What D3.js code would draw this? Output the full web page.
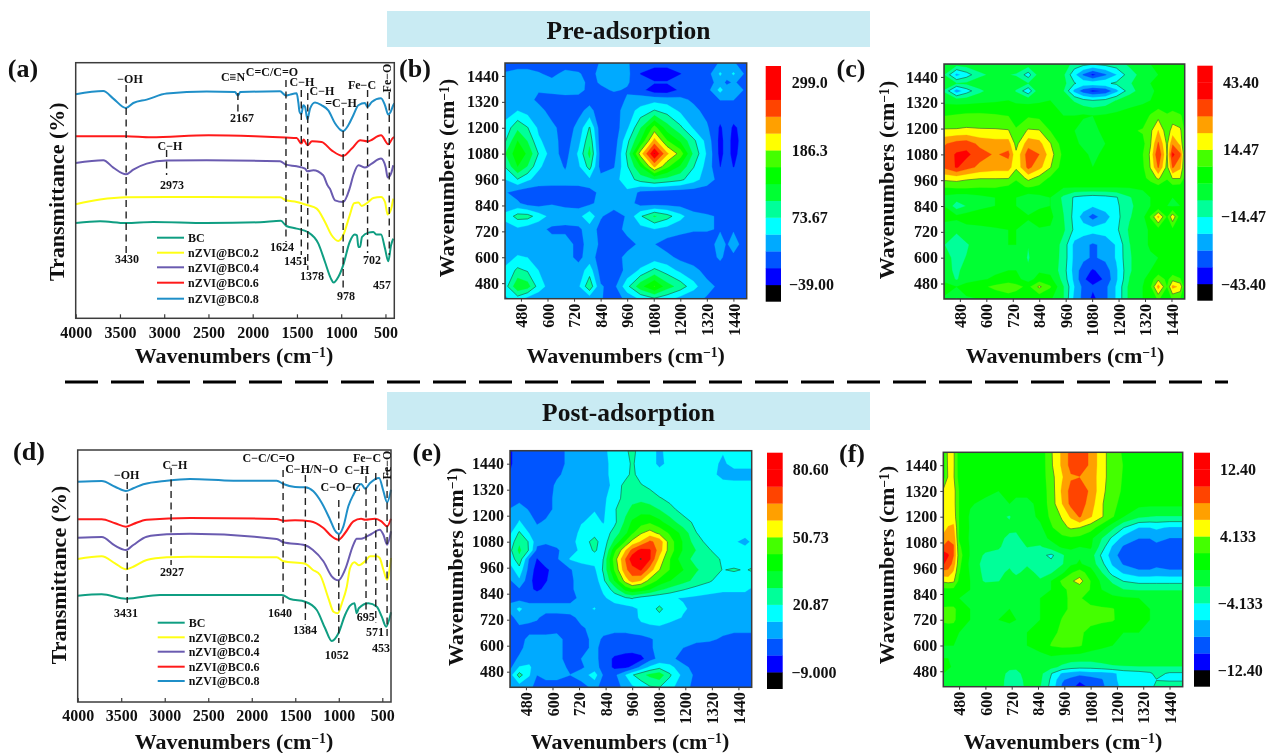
<!DOCTYPE html>
<html><head><meta charset="utf-8">
<style>html,body{margin:0;padding:0;background:#fff}svg{display:block;filter:blur(.4px)}text{font-family:"Liberation Serif","Times New Roman",serif;font-weight:bold;fill:#111}</style>
<script src="https://cdn.jsdelivr.net/npm/d3@7/dist/d3.min.js"></script>
</head><body><svg id="c" width="1266" height="753" viewBox="0 0 1266 753"></svg>
<script>
// ---------- FTIR spectra, panel (a): wavenumber / transmittance (arb. units) ----------
const seriesNames=["BC","nZVI@BC0.2","nZVI@BC0.4","nZVI@BC0.6","nZVI@BC0.8"];
const seriesColors=["#0f9e82","#ffff14","#6a5bb0","#ff1a1a","#1f8fc8"];
const xTicksFtir=[4000,3500,3000,2500,2000,1500,1000,500];
const waveA0=[4000,3725,3432,3123,2520,1917,1682,1620,1503,1378,1258,1183,1116,1086,1033,978,904,848,822,806,787,765,693,637,600,550,505,468,437,412];
const transA0=[95.3,97,95.3,96.3,95.3,96,97.5,92.3,89.7,86.3,74.7,56.3,39.7,35.7,41.3,53,76.3,83.7,83,71.3,71.3,81.3,85.7,86.3,83.7,83.7,69.7,57,73,79.7];
const waveA1=[4000,3725,3432,2972,2520,1691,1624,1503,1378,1277,1183,1108,1033,978,904,855,806,768,693,637,550,505,475,437,412];
const transA1=[114,118.7,121,121.3,121.3,121,118,116.3,113,109.7,96.3,83,77.3,83,103,115,115.7,112.3,116.3,120.3,121.3,116.3,103.7,109,119.7];
const waveA2=[4000,3688,3575,3432,3349,3198,2972,2520,1691,1624,1503,1408,1382,1315,1204,1155,1129,1070,978,904,863,806,731,655,550,498,475,437,412];
const transA2=[155.3,158,150.7,144,148.7,154.7,157.7,158,157,153.7,152,149.7,147,148,143,133,129.7,118,116.3,130,143,153,150.7,154.7,159.7,151.3,140.7,144.7,153];
const waveA3=[4000,3430,3150,2500,1974,1624,1503,1451,1425,1382,1330,1221,1108,978,880,783,705,550,468,412,400];
const transA3=[182,182,181,183,182,180.7,180.3,174.7,178.7,173,177,176.3,168,162.3,169.7,178,177,183,174,180.7,181];
const waveA4=[4000,3688,3575,3432,3349,3198,2972,2520,2200,2167,2140,1691,1624,1580,1503,1485,1470,1451,1428,1408,1382,1352,1296,1221,1146,1070,1012,978,920,863,806,731,705,655,550,505,468,442,412,400];
const transA4=[224,227.3,219.7,210.3,215.3,218.7,224.7,226.7,226.3,222.7,226.3,227,222.7,223.7,225,216.3,206.3,204,213,211.3,199,209.7,215.7,213,208,195,188.7,187.3,193,203,213,215.3,211.3,216.3,220,213,203.7,206.3,213,215];
// ---------- FTIR spectra, panel (d) ----------
const waveD0=[4000,3724,3445,3054,1713,1655,1560,1387,1253,1157,1081,1004,928,870,820,794,770,660,563,506,456,400];
const transD0=[106.3,107.7,103.3,107,107,107,103,100.3,92,73.7,61,68.7,87,96.3,98.7,88.7,93.7,98.7,95.3,85.3,75.3,89.7];
const waveD1=[4000,3724,3571,3445,3361,3207,2977,2709,1713,1637,1387,1300,1215,1119,1061,1011,965,908,870,820,770,698,640,563,530,487,445,400];
const transD1=[143,145.7,138.7,132.7,135.3,142,144.7,145.3,144.7,140.7,138.3,132.3,127,103.7,90.3,88.7,98.7,115.3,134,139.7,136.7,140.7,145.7,145.7,144,132.3,122.3,144];
const waveD2=[4000,3724,3571,3445,3361,3207,2977,2709,1713,1637,1387,1300,1177,1081,1004,928,832,794,743,698,625,530,487,445,400];
const transD2=[164.3,165,156.3,152,157,165.3,167.7,168.3,163,159.7,156.7,152.3,140.7,125.7,121.7,132.3,157.3,163.3,163.3,164.7,168,172.3,167.3,157.3,170.7];
const waveD3=[4000,3724,3571,3445,3361,3207,2709,1713,1637,1502,1330,1177,1081,1004,928,832,743,698,583,510,445,400];
const transD3=[182.7,182.7,178.7,175.3,178,182.3,184,183,181.3,181.7,180.7,174,165.7,162.3,169,180.7,183.3,182.3,183.3,180.7,175.7,183.3];
const waveD4=[4000,3724,3571,3445,3361,3246,2977,2709,2211,1713,1637,1502,1387,1292,1195,1100,1042,997,947,890,832,743,698,640,537,487,445,400];
const transD4=[220.3,221,215.3,211,213.7,217.7,221.3,223,221.3,221.3,218,215,214.7,210.7,199,182.3,171.3,168,175.7,195.7,207.3,218,213.3,219,224,210.7,199.7,212.3];
// dashed guide wavenumbers
const guideWaveA=[3430,2167,2973,1624,1451,1378,978,702,457];
const guideTopA=[85,93,150,80,90,93,108,90,92];
const guideBotA=[253,112,175,242,255,270,288,253,255];
const guideWaveD=[3431,2927,1640,1384,1000,687,575,445];
const guideTopD=[482,468,470,475,500,476,473,468];
const guideBotD=[603,565,608,625,643,612,623,638];
const notesA=[["−OH",130,79],["C≡N",233,77],["C=C/C=O",272,72],["C−H",302,82],["C−H",322,91],["=C−H",341,103],["Fe−C",362,85],["2167",242,118],["C−H",170,146],["2973",172,185],["3430",127,259],["1624",282,247],["1451",296,261],["1378",312,276],["978",346,296],["702",372,260],["457",382,285]];
const notesD=[["−OH",126.7,475],["C−H",175,465],["C−C/C=O",268.7,458],["C−H/N−O",311.7,469],["C−O−C",340.7,487],["C−H",357,470],["Fe−C",367,458],["2927",172,572],["3431",126,612.7],["1640",280,612.7],["1384",305,630],["1052",336.7,655],["695",365.7,617],["571",375,632],["453",381,648]];

// ---------- 2D correlation maps ----------
const mapTicks=[480,600,720,840,960,1080,1200,1320,1440];
const bandColors=["#0000ff","#0055ff","#00aaff","#00ffff","#00ff99","#00ff33","#00ff00","#44ff00","#ffff00","#ffa000","#ff4400","#ff0000"];
const rangeB=[-39,299], rangeC=[-43.4,43.4], rangeE=[-9,80.6], rangeF=[-12.4,12.4];
const labelsB=["−39.00","73.67","186.3","299.0"], labelsC=["−43.40","−14.47","14.47","43.40"], labelsE=["−9.000","20.87","50.73","80.60"], labelsF=["−12.40","−4.133","4.133","12.40"];

const xGridB=[408,465,510,560,620,680,740,790,840,900,960,1020,1083,1140,1200,1260,1320,1380,1410,1440,1500];
const yGridB=[1500,1450,1410,1375,1330,1280,1200,1140,1080,1020,960,900,850,790,730,660,600,540,465,408];
const zB=[
[3,3,3,3,3,3,3,3,20,20,20,3,3,3,3,3,3,20,20,20,3],
[20,28,28,20,10,25,20,8,25,30,25,-12,-30,-30,-12,3,3,50,30,50,8],
[25,28,28,25,25,30,28,10,20,25,20,3,-8,-8,3,3,3,30,12,20,8],
[25,25,25,20,25,30,28,8,12,20,15,0,-30,-30,-5,3,5,55,30,45,8],
[30,30,28,10,5,5,5,8,5,5,20,30,35,32,25,12,3,18,18,18,3],
[32,45,35,28,5,5,10,25,3,3,32,55,75,62,40,25,8,3,3,3,3],
[55,95,75,40,25,3,25,76,0,0,40,100,170,115,80,42,22,-15,0,-15,0],
[70,130,100,50,30,3,35,95,0,0,65,130,225,160,125,80,35,-20,0,-20,3],
[100,150,125,72,30,5,50,110,5,5,80,200,300,220,175,95,42,-20,0,-20,10],
[75,130,100,50,30,15,40,85,5,15,70,130,220,165,125,75,35,-12,0,-12,3],
[45,72,50,35,28,25,30,40,28,35,60,85,100,90,80,58,30,8,5,3,3],
[20,5,0,0,5,8,3,5,25,30,40,10,5,3,0,0,3,5,4,3,3],
[30,22,5,3,15,12,5,10,28,30,32,5,3,3,3,3,3,10,6,3,3],
[52,85,85,60,35,28,35,68,20,5,20,70,105,85,55,25,20,15,13,12,3],
[35,40,30,25,12,12,12,30,10,5,25,35,45,35,25,20,20,15,15,15,3],
[30,32,30,28,28,28,10,25,15,10,8,22,18,5,3,3,3,28,15,28,3],
[35,48,45,30,28,28,10,30,5,5,25,25,30,25,10,3,3,22,10,12,3],
[50,80,70,45,30,28,28,60,5,0,25,50,80,60,38,25,8,5,4,3,3],
[60,125,115,60,30,28,40,95,20,8,65,120,160,115,90,55,25,12,10,8,3],
[40,60,35,28,28,25,25,30,20,3,25,50,70,55,35,25,15,8,5,3,3]];

const xGridC=[408,465,510,570,640,700,735,790,840,890,950,1000,1040,1083,1140,1190,1250,1310,1345,1380,1420,1445,1480,1500];
const yGridC=[1500,1450,1410,1375,1330,1260,1190,1130,1080,1020,970,930,880,840,790,730,660,600,540,500,465,408];
const zC=[
[-2,-4,-3,-2,-1,-1,-1,-3,-1,0,-3,-10,-12,-14,-12,-10,-6,-2,0,0,0,0,0,0],
[-7,-24,-18,-9,-5,-7,-8,-18,-4,-2,-6,-20,-30,-38,-30,-22,-10,-5,-1,0,0,0,0,0],
[-3,-7,-6,-3,-2,-2,-3,-7,-1,0,-5,-14,-17,-17,-16,-13,-8,-3,0,1,1,1,0,0],
[-8,-26,-18,-9,-3,-3,-8,-20,-2,-1,-7,-24,-33,-38,-35,-24,-10,-4,-1,1,1,1,0,0],
[-2,-3,-3,-2,-1,0,-1,-2,-1,0,-3,-8,-12,-14,-12,-7,-3,-1,0,1,2,1,0,0],
[7,8,9,9,8,7,4,6,5,3,0,0,1,0,1,2,3,3,8,12,8,10,8,5],
[15.5,15.5,16,15.5,15.5,15,8,15.5,15,7,1,0,-4,-2,2,4,6,8,13,22,10,18,16,6],
[28,32,33,27,25,25,12,26,24,15,3,1,-1,-2,0,2,3,5,14,30,13,28,20,6],
[32,37,38,32,28,31,16,33,29,18,5,2,1,-1,1,3,4,7,16,36,14,38,30,8],
[30,37,32,27,25,25,16,31,24,15,3,2,0,0,1,5,3,6,15,30,12,30,23,7],
[17,18,16,15,15,15,8,17,12,6,2,3,1,1,2,3,3,5,10,16,8,15,15,5],
[8,9,9,8,8,6,5,8,6,3,1,1,1,1,1,1,1,1,3,5,3,5,4,1],
[-2,-4,-4,-2,0,0,0,-4,-2,0,-9,-15.5,-17,-18,-17,-15,-8,-2,0,0,0,0,0,0],
[0,-11,-7,-2,0,0,0,-6,-2,0,-8,-16,-18,-21,-18,-16,-9,-3,0,0,0,-1,0,0],
[2,2,4,4,5,5,4,1,5,2,-7,-17,-25,-32,-25,-17,-8,-2,8,24,6,20,3,0],
[-3,-6,-3,-2,-1,0,0,-3,-1,-1,-6,-16,-18,-19,-18,-16,-6,-2,1,4,3,5,1,0],
[-7,-11,-8,-4,-1,0,0,-7,-1,-1,-10,-24,-27,-30,-27,-21,-7.5,-2,1,2,1,1,1,0],
[-5,-9,-7,-4,-2,-1,-1,-8,-2,-2,-10,-24,-27,-30,-27,-21,-8,-3,-1,0,0,0,0,0],
[-4,-9,-4,-2,-1,0,0,-6,-1,-2,-11,-25,-33,-37,-33,-23,-8,-3,0,2,1,2,1,0],
[-2,-8,-3,-1,1,2,2,-3,3,2,-10,-24,-35,-40,-35,-23,-7,-1,3,13,5,12,8,0],
[3,0,3,5,9,13,10,5,16,8,-7,-22,-31,-35,-31,-21,-5,0,6,25,7,24,20,2],
[-1,-8,-1,0,2,2,2,0,1,1,-7,-24,-31,-38,-31,-21,-5,0,3,8,3,8,6,1]];

const xGridE=[408,450,495,530,570,620,680,730,790,830,880,930,960,1000,1040,1083,1130,1190,1250,1310,1370,1420,1470,1500];
const yGridE=[1500,1440,1390,1340,1280,1230,1170,1120,1080,1040,1000,950,900,860,820,770,730,680,630,590,540,500,465,408];
const zE=[
[-3,3,3,3,3,3,8,10,10,12,16,19,24,16,16,12,16,16,16,16,14,16,16,16],
[-3,3,3,3,3,3,8,10,10,12,15,18,22,17,16,12,15,16,16,16,12,16,16,16],
[-1,3,3,3,3,5,8,9,10,12,15,18,23,17,16,16,16,16,16,16,11,10,10,10],
[3,3,3,3,3,7,8,9,10,11,15,24,27,21.5,19,16,16,16,16,16,16,16,16,16],
[5,3,3,3,3,8,9,10,11,12,17,24,26,26,25,21.5,19,17,16,15,15,15,15,15],
[6,10,5,2,3,8,9,11,13,12,20,26,30,33,31,28,23,18,16,15,15,15,15,15],
[8,14,10,5,7,8,10,13,15,13,19,30,37,40,42,38,32,24,19,16,15,15,15,15],
[12,22,13,9,8,8,10,15,18,16,24,34,42,50,54,49,42,33,21,18,15,15,15,15],
[16,27,20,8,7,8,11,16,24,16,30,44,53,59,67,63,47,35,24,18,14,14,12,14],
[19,30,20,4,3,5,10,15,22,17,41,58,68,76,74,62,47,35,28,21.5,15,15,15,15],
[16,26,5,-2,3,5,14,15,16,21,47,66,78,81,74,56,43.5,31,26,23.5,20,15,15,15],
[10,18,3,-5,-3,2,5,11,12,22,44,64,70,74,62,51,43,36,29,25,20.5,22,20,22],
[5,12,1,-6,-2,2,5,8,9,19,36,54,62,58,48,41,36,31,26,22,16,15,15,15],
[3,5,0,-3,0,3,5,8,8,15,24,38,42,40,36,30,26,21.5,18,15,14,14,14,13],
[3,3,3,3,3,3,3,8,9,12,17,20,21.5,18,16,15,14,13,12,12,12,12,12,12],
[9,15,9,9,9,9,9,10,14,8,9,10,11,15,17,23,16,14,12,10,8,8,8,8],
[3,10,9,7,3,3,4,8,8,8,8,9,10,15,16,18,16,13,10,9,8,8,8,8],
[3,4,3,3,3,4,3,5,8,8,8,8,9,11,12,12,10,9,8,8,8,8,8,8],
[3,3,8,8,8,8,3,3,8,5,3,3,3,3,5,8,8,8,8,7,5,3,3,3],
[3,4,9,9,9,8,3,3,8,3,3,3,3,3,5,8,8,6,3,3,3,3,3,3],
[3,7,10,9,8,8,3,6,8,3,-3,-6,-7,-4,3,8,8,3,3,3,3,3,3,3],
[4,14,15,8,8,8,5,5,9,3,-3,-3,0,8,15,19,16,8,3,3,3,3,3,3],
[10,24,14,6,8,8,6,9,17,5,4,13.5,20,26,30,33,22,11,4,3,3,3,3,3],
[10,9,8,3,3,3,3,3,8,3,3,8,12,15,20,21,16,8,4,3,2,-1,-1,-1]];

const xGridF=[408,430,455,480,530,600,660,710,740,790,850,900,950,990,1030,1080,1130,1180,1230,1300,1350,1380,1440,1500];
const yGridF=[1500,1440,1385,1320,1260,1200,1150,1100,1060,1020,980,940,900,860,820,770,720,660,600,540,500,470,440,408];
const zF=[
[1,4.8,4.5,1,.5,.5,0,.5,.5,.5,.5,3.9,6.6,9,9.8,7.8,5,3,1.8,.8,.5,.5,.8,.8],
[1,4.6,4.5,1,.5,.5,0,.5,.5,.5,.5,3.8,6.6,9,9.8,7.8,5,3,2,.8,.5,.5,.8,.5],
[1,4.4,4.4,1.2,.5,.5,0,.5,.5,.5,.7,3.4,6,8,8.2,7.5,5,3,1.9,.7,.5,.5,.5,.5],
[4.6,5,5,2,.5,.5,0,.5,.5,.5,.7,3,6.6,9,9.8,7.8,4.8,2.8,1.8,.7,.5,.5,.5,.5],
[4.8,5,5,2,.2,-.5,-.2,0,-.5,-.5,.5,3,6.2,8.9,9.5,7.2,4.4,2.5,1.5,.6,.5,.5,.5,.5],
[5,5.3,5.3,2,-.3,-1,-1.5,-2.3,-1,-1,.5,2.5,4.4,6.5,8.5,6.4,4.4,2.3,0,-1.7,-2.1,-2.2,-2.2,-2.2],
[5.6,6.3,6.6,2,-.2,-1,-1.2,-1.5,-1.8,-1,-.5,1.8,3.5,4.5,4.2,3,1,-1.5,-4,-6.2,-6.2,-5.9,-6.4,-6.4],
[6.6,7.8,7.8,1.8,-.3,-1,-1.5,-2.6,-2.4,-1.5,-1,.5,1.5,1.8,1.5,.5,-2,-4.6,-7,-8.2,-8.2,-7.5,-8.3,-8.3],
[8.5,9.5,8.4,2.5,-.2,-1.2,-1.7,-3.4,-3.4,-2,-2.3,-1,.3,.3,0,.3,-3,-6.5,-8.5,-10,-10,-9,-10,-10],
[12,10.5,8.3,3,-.2,-2.5,-3,-3.5,-4,-3,-3.5,-4.6,-2.5,-.6,-.2,-1,-4.5,-7.3,-9.5,-10.2,-10.2,-9,-10.2,-10.2],
[10.5,9.5,7.5,2.6,-.5,-3,-3.3,-2.8,-3,-2.5,-3.2,-3.5,-2.3,-.4,.2,-.8,-3.5,-6.5,-8.5,-10,-10,-9,-10,-10],
[7.5,7.5,5.8,2.2,-.2,-2.8,-3,-1.4,-2.8,-1,-3,-2.3,-.5,1.8,3,1,-2,-5,-6.5,-7.5,-7.5,-7.3,-7.5,-7.5],
[4.5,4.8,4.5,1.5,0,-2.5,-2.2,-.5,-.5,-.5,-1.7,0,2.5,3.8,5,2,-.5,-2.5,-4.2,-4.8,-4.8,-4.8,-4.8,-4.8],
[1.5,1.5,1.5,.5,0,0,0,0,0,0,-.3,0,1.6,2.5,2.8,2,0,-1,-2,-2.3,-2.3,-2.3,-2.3,-2.3],
[0,0,0,0,0,0,0,0,0,0,0,.3,1.5,2.4,2.2,1.5,1,.5,.3,0,0,0,0,0],
[2.5,2.6,2.6,1.2,0,0,0,0,0,0,0,.5,1.5,2.4,2.4,2.4,2.3,2.2,1.2,.5,0,0,0,0],
[2.5,2.7,2.6,1,0,0,0,.3,0,0,0,.5,2.2,2.6,2.6,2.6,2.5,2.3,1,.3,0,0,0,0],
[.5,.5,.5,0,-.5,-.5,0,-.8,-.8,0,.3,1.5,2.5,2.6,2.4,1.5,.8,.3,0,0,0,0,0,0],
[0,0,0,-.5,-.5,-.3,-.2,-.5,-.5,0,.5,2.2,2.6,2.6,2.3,1,.3,0,0,0,0,0,0,0],
[0,0,0,-.5,-.5,-.3,-.3,-1.2,-1.2,-.3,-.5,-.5,-1,-1.2,-1.3,-1.3,-1,-.6,-.5,-.5,-.5,-.5,-.3,-.3],
[.5,.3,-.3,-1,-1,-.5,-.5,-1.2,-1.5,-.7,-1,-1.5,-2.5,-3.2,-3.4,-3.4,-3,-2.5,-2.3,-2.2,-2.2,-2.2,-2.2,-2.2],
[0,-.5,-.5,-1,-.8,-.5,-.5,-3,-3,-.8,-1.5,-4,-6.5,-7,-7.5,-7,-7,-6.6,-5.5,-5,-4.5,-3.5,-4.4,-4.4],
[0,-.5,-.8,-1.2,-1,-.6,-.6,-3.5,-3.8,-1,-1.7,-4.5,-8,-9,-10,-9.5,-8.5,-6.5,-5.8,-5.5,-5,-4.2,-4.4,-4.4],
[0,-1.5,-2,-1.5,-1,-.8,-.8,-3.5,-3.5,-1.5,-2,-4.8,-8.6,-9.8,-11,-10,-9,-6.5,-6,-5.8,-5,-3.5,-3,-3]];

// ---------- drawing ----------
const svg=d3.select("#c");
const FRAME="#3c3c3c";
const fmtTick=d3.format("d");
let clipId=0;
function txt(g,s,x,y,size,opt={}){
  const t=g.append("text").attr("x",x).attr("y",y).attr("dy",".35em").attr("font-size",size).attr("text-anchor",opt.anchor||"middle").text(s);
  if(opt.rot) t.attr("transform",`rotate(${opt.rot} ${x} ${y})`);
  return t;
}
function waveTitle(x,y,rot,size=22){
  const t=svg.append("text").attr("x",x).attr("y",y).attr("dy",".35em").attr("font-size",size).attr("text-anchor","middle");
  if(rot) t.attr("transform",`rotate(${rot} ${x} ${y})`);
  t.append("tspan").text("Wavenumbers (cm");
  t.append("tspan").attr("dy","-.4em").attr("font-size",size*.62).text("−1");
  t.append("tspan").attr("dy",".22em").text(")");
}
function ftir(box,waves,trans,guides,notes,legendYs,feO){
  const x=d3.scaleLinear().domain([4000,400]).range([box.l,box.r]);
  const y=d3.scaleLinear().domain([0,box.b-box.t]).range([box.b,box.t]);
  const g=svg.append("g");
  const line=d3.line().curve(d3.curveMonotoneX).x(d=>x(d[0])).y(d=>y(d[1]));
  waves.forEach((w,i)=>{
    g.append("path").attr("d",line(w.map((v,j)=>[v,trans[i][j]]))).attr("fill","none").attr("stroke",seriesColors[i]).attr("stroke-width",2).attr("stroke-linejoin","round");
  });
  guides.wave.forEach((w,i)=>{
    g.append("line").attr("x1",x(w)).attr("x2",x(w)).attr("y1",guides.top[i]).attr("y2",guides.bot[i]).attr("stroke","#222").attr("stroke-width",1.4).attr("stroke-dasharray","7 4.5");
  });
  g.append("rect").attr("x",box.l).attr("y",box.t).attr("width",box.r-box.l).attr("height",box.b-box.t).attr("fill","none").attr("stroke",FRAME).attr("stroke-width",1.5);
  const ax=svg.append("g").attr("transform",`translate(0,${box.b})`).call(d3.axisBottom(x).tickValues(xTicksFtir).tickFormat(fmtTick).tickSizeInner(-4).tickSizeOuter(0).tickPadding(8));
  ax.select(".domain").remove();
  ax.selectAll("line").attr("stroke",FRAME).attr("stroke-width",1.2);
  ax.selectAll("text").attr("font-size",16).attr("font-family",null).style("fill","#111");
  notes.forEach(n=>txt(svg,n[0],n[1],n[2],12));
  txt(svg,"Fe−O",feO[0],feO[1],12,{rot:-90});
  seriesNames.forEach((s,i)=>{
    svg.append("line").attr("x1",box.legX).attr("x2",box.legX+27).attr("y1",legendYs[i]).attr("y2",legendYs[i]).attr("stroke",seriesColors[i]).attr("stroke-width",2);
    txt(svg,s,box.legX+31,legendYs[i],12,{anchor:"start"});
  });
}
function heat(box,bar,xGrid,yGrid,z,range,labels,lx,lxNeg){
  const x=d3.scaleLinear().domain([408,1500]).range([box.l,box.r]);
  const y=d3.scaleLinear().domain([408,1500]).range([box.b,box.t]);
  const step=(range[1]-range[0])/12;
  const levels=d3.range(13).map(k=>range[0]+k*step);
  const nx=xGrid.length, ny=yGrid.length;
  const ix=d3.scaleLinear().domain(xGrid.map((_,i)=>i+.5)).range(xGrid.map(v=>x(v))).clamp(true);
  const iy=d3.scaleLinear().domain(yGrid.map((_,i)=>i+.5)).range(yGrid.map(v=>y(v))).clamp(true);
  const path=d3.geoPath(d3.geoTransform({point(a,b){this.stream.point(ix(a),iy(b));}}));
  const id="clip"+(++clipId);
  svg.append("clipPath").attr("id",id).append("rect").attr("x",box.l).attr("y",box.t).attr("width",box.r-box.l).attr("height",box.b-box.t);
  const g=svg.append("g").attr("clip-path",`url(#${id})`);
  g.append("rect").attr("x",box.l).attr("y",box.t).attr("width",box.r-box.l).attr("height",box.b-box.t).attr("fill","#000");
  const polys=d3.contours().size([nx,ny]).thresholds(levels)(z.flat());
  polys.forEach((p,k)=>{
    g.append("path").attr("d",path(p)).attr("fill",bandColors[Math.min(k,11)]).attr("stroke",bandColors[Math.min(k,11)]).attr("stroke-width",.3);
  });
  polys.forEach((p,k)=>{
    if(k%4===0) g.append("path").attr("d",path(p)).attr("fill","none").attr("stroke","#1c4a3c").attr("stroke-opacity",.8).attr("stroke-width",.7);
  });
  svg.append("rect").attr("x",box.l).attr("y",box.t).attr("width",box.r-box.l).attr("height",box.b-box.t).attr("fill","none").attr("stroke",FRAME).attr("stroke-width",1.5);
  const ax=svg.append("g").attr("transform",`translate(0,${box.b})`).call(d3.axisBottom(x).tickValues(mapTicks).tickFormat(fmtTick).tickSize(3).tickPadding(3));
  ax.select(".domain").remove();
  ax.selectAll("line").attr("stroke",FRAME);
  ax.selectAll("text").attr("font-size",16).attr("font-family",null).style("fill","#111").attr("text-anchor","end").attr("dy",".35em").attr("y",0).attr("x",0).attr("transform","translate(0,5) rotate(-90)");
  const ay=svg.append("g").attr("transform",`translate(${box.l},0)`).call(d3.axisLeft(y).tickValues(mapTicks).tickFormat(fmtTick).tickSize(3).tickPadding(3));
  ay.select(".domain").remove();
  ay.selectAll("line").attr("stroke",FRAME);
  ay.selectAll("text").attr("font-size",16).attr("font-family",null).style("fill","#111");
  // colour bar
  const cb=d3.scaleLinear().domain([range[0]-step,range[1]+step]).range([bar.b,bar.t]);
  svg.append("rect").attr("x",bar.l).attr("width",bar.r-bar.l).attr("y",cb(range[0])).attr("height",cb(range[0]-step)-cb(range[0])).attr("fill","#000");
  levels.forEach((lv,k)=>{
    svg.append("rect").attr("x",bar.l).attr("width",bar.r-bar.l).attr("y",cb(lv+step)).attr("height",cb(lv)-cb(lv+step)+.3).attr("fill",bandColors[Math.min(k,11)]);
  });
  labels.forEach((s,i)=>{
    txt(svg,s,s.startsWith("−")?lxNeg:lx,cb(levels[i*4]),16,{anchor:"start"});
  });
}

// title bands and separator
svg.append("rect").attr("x",387).attr("y",11).attr("width",483).attr("height",36).attr("fill","#c9ebf3");
svg.append("rect").attr("x",387).attr("y",392).attr("width",483).attr("height",38).attr("fill","#c9ebf3");
txt(svg,"Pre-adsorption",628.5,30,25.5);
txt(svg,"Post-adsorption",628.5,412,25.5);
svg.append("line").attr("x1",65).attr("x2",1228).attr("y1",382).attr("y2",382).attr("stroke","#000").attr("stroke-width",3).attr("stroke-dasharray","33 13");
[["(a)",23,68],["(b)",415,68],["(c)",851,68],["(d)",29,451],["(e)",427,452],["(f)",852,453]].forEach(d=>txt(svg,d[0],d[1],d[2],26));

ftir({l:75.7,r:394.3,t:62.7,b:318.3,legX:157},[waveA0,waveA1,waveA2,waveA3,waveA4],[transA0,transA1,transA2,transA3,transA4],{wave:guideWaveA,top:guideTopA,bot:guideBotA},notesA,[237.7,252.7,267.3,282.7,298.7],[387,78]);
ftir({l:77.7,r:391,t:450,b:702,legX:157.7},[waveD0,waveD1,waveD2,waveD3,waveD4],[transD0,transD1,transD2,transD3,transD4],{wave:guideWaveD,top:guideTopD,bot:guideBotD},notesD,[622.7,637.3,651.7,666.7,681],[386.7,465]);
txt(svg,"Transmittance (%)",56.7,191.7,22,{rot:-90});
txt(svg,"Transmittance (%)",58,575,22,{rot:-90});
waveTitle(234,355,0);waveTitle(234,741,0);

heat({l:505,r:746.7,t:63,b:298.7},{l:765.7,r:781,t:66,b:301.7},xGridB,yGridB,zB,rangeB,labelsB,791.7,789);
heat({l:944,r:1184.7,t:64,b:299},{l:1197.3,r:1212.7,t:65.7,b:300.7},xGridC,yGridC,zC,rangeC,labelsC,1223,1221);
heat({l:510,r:751.7,t:450.7,b:687.3},{l:767,r:782.7,t:452.7,b:689},xGridE,yGridE,zE,rangeE,labelsE,792.7,791.5);
heat({l:943.3,r:1182.7,t:452.3,b:686.7},{l:1194,r:1210,t:452.7,b:686.7},xGridF,yGridF,zF,rangeF,labelsF,1220,1217.7);
waveTitle(625.7,355,0);waveTitle(446.7,178,-90);
waveTitle(1065,355,0);waveTitle(886.7,180,-90);
waveTitle(630,741,0);waveTitle(455,566.7,-90);
waveTitle(1063,741,0);waveTitle(886.7,565,-90);
</script></body></html>
